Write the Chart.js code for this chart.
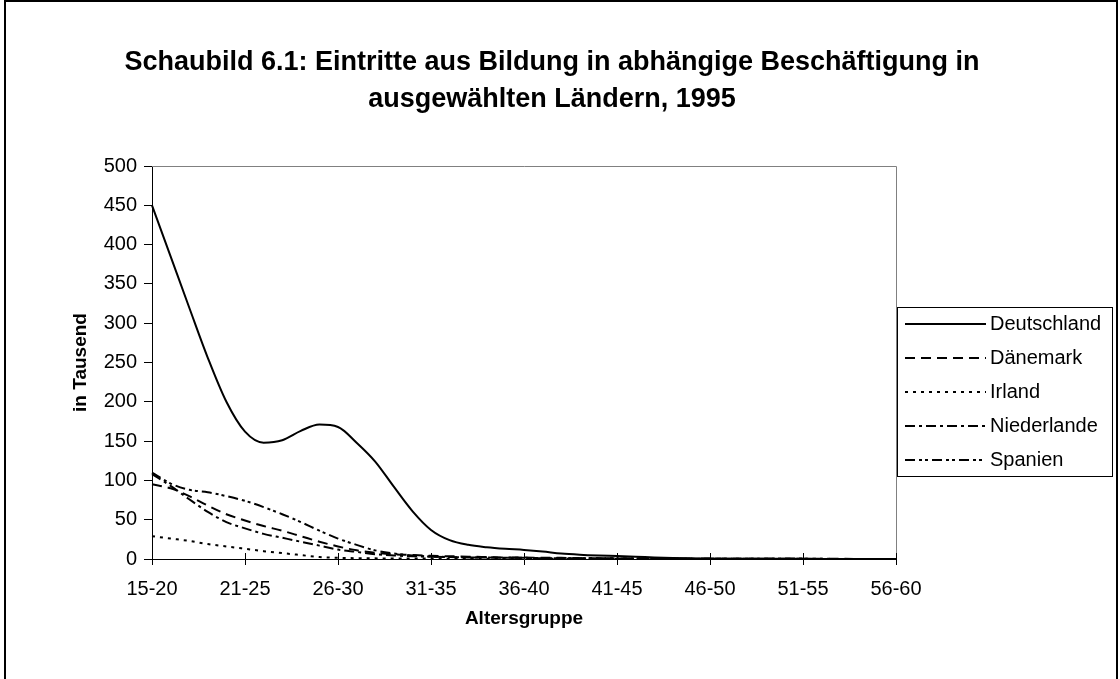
<!DOCTYPE html>
<html>
<head>
<meta charset="utf-8">
<script src="https://cdn.jsdelivr.net/npm/chart.js@4.4.0/dist/chart.umd.min.js"></script>
<style>
html, body { margin: 0; padding: 0; background: #fff; }
#wrap { width: 1120px; height: 679px; }
</style>
</head>
<body>
<div id="wrap"><canvas id="myChart" width="1120" height="679"></canvas></div>
<script>
// the data

const ages = ['15','16','17','18','19','20','21','22','23','24','25','26','27','28','29','30',
    '31','32','33','34','35','36','37','38','39','40','41','42','43','44','45','46','47','48',
    '49','50','51','52','53','54','55']

const tickLabels = ['15-20','21-25','26-30','31-35','36-40','41-45','46-50','51-55','56-60']

const deutschland = [450,385,320,256,200,162,148,151,163,171,168,148,124,92,61,37,24,18,15,13,
    11.5,9.5,7,5.5,4.5,3.8,3,2,1.2,0.8,0.5,0.4,0.3,0.3,0.2,0.2,0.1,0.1,0.1,0.1,0.1]
const daenemark = [95,90,80,68,57,49,42,36,29,22,16,11,8,6,5,4,3.5,3,2.5,2,2,1.5,1.5,1,1,0.8,
    0.6,0.5,0.5,0.4,0.4,0.3,0.3,0.3,0.2,0.2,0.2,0.2,0.1,0.1,0.1]
const irland = [29,26,23,19,16,13,10,7.5,5,2.5,1.5,1,0.8,0.6,0.5,0.5,0.4,0.4,0.3,0.3,0.3,0.3,
    0.2,0.2,0.2,0.2,0.2,0.1,0.1,0.1,0.1,0.1,0.1,0.1,0.1,0.1,0.1,0.1,0.1,0.1,0.1]
const niederlande = [108,93,76,60,47,39,32,27,22,17,12,9,6,4.5,3.5,3,2.5,2,2,1.5,1.5,1,1,1,
    0.8,0.6,0.5,0.5,0.4,0.4,0.3,0.3,0.3,0.2,0.2,0.2,0.2,0.1,0.1,0.1,0.1]
const spanien = [110,96,88,85,80,74,66,57,47,36,26,18,11,7,4.5,3,2.5,2,2,1.5,1.5,1,1,1,0.8,
    0.5,0.5,0.4,0.4,0.3,0.3,0.3,0.2,0.2,0.2,0.2,0.1,0.1,0.1,0.1,0.1]

const titleLines = ['Schaubild 6.1: Eintritte aus Bildung in abhängige Beschäftigung in',
    'ausgewählten Ländern, 1995']

const font = '"Liberation Sans", Arial, sans-serif'

function series(label, data, dash) {
    return {
        label: label,
        data: data,
        borderColor: '#000',
        backgroundColor: '#000',
        borderWidth: 2,
        borderDash: dash,
        pointRadius: 0,
        fill: false,
        cubicInterpolationMode: 'monotone'
    }
}

// title, legend and frames
const extras = {
    id: 'extras',
    afterDraw(chart) {
        const ctx = chart.ctx
        const area = chart.chartArea
        ctx.save()

        // plot area border (top / right)
        ctx.strokeStyle = '#808080'
        ctx.lineWidth = 1
        ctx.beginPath()
        ctx.moveTo(area.left, area.top + 0.5)
        ctx.lineTo(area.right + 0.5, area.top + 0.5)
        ctx.lineTo(area.right + 0.5, area.bottom)
        ctx.stroke()

        // x ticks cross the axis
        const xs = chart.scales.x
        ctx.strokeStyle = '#000'
        ctx.beginPath()
        xs.ticks.forEach((t, i) => {
            const px = Math.round(xs.getPixelForTick(i)) + 0.5
            ctx.moveTo(px, area.bottom - 6)
            ctx.lineTo(px, area.bottom)
        })
        ctx.stroke()

        // outer frame
        ctx.strokeStyle = '#000'
        ctx.lineWidth = 2
        ctx.strokeRect(5, 1, 1112, 700)

        // title
        ctx.fillStyle = '#000'
        ctx.font = 'bold 27px ' + font
        ctx.textAlign = 'center'
        ctx.textBaseline = 'middle'
        ctx.fillText(titleLines[0], 552, 63)
        ctx.fillText(titleLines[1], 552, 100)

        // legend
        const lx = 897, ly = 307, lw = 215, lh = 169
        ctx.lineWidth = 1
        ctx.strokeStyle = '#000'
        ctx.fillStyle = '#fff'
        ctx.fillRect(lx, ly, lw, lh)
        ctx.strokeRect(lx + 0.5, ly + 0.5, lw, lh)
        ctx.font = '20px ' + font
        ctx.textAlign = 'left'
        chart.data.datasets.forEach((ds, i) => {
            const y = 324 + i * 34
            ctx.strokeStyle = '#000'
            ctx.lineWidth = 2
            ctx.setLineDash(ds.borderDash || [])
            ctx.beginPath()
            ctx.moveTo(905, y)
            ctx.lineTo(986, y)
            ctx.stroke()
            ctx.setLineDash([])
            ctx.fillStyle = '#000'
            ctx.fillText(ds.label, 990, y)
        })
        ctx.restore()
    }
}

const ctx = document.querySelector('#myChart').getContext('2d')

let chart = new Chart(ctx, {
    type: 'line',
    data: {
        labels: ages,
        datasets: [
            series('Deutschland', deutschland, []),
            series('Dänemark', daenemark, [10, 6]),
            series('Irland', irland, [3, 5]),
            series('Niederlande', niederlande, [10, 4, 3, 4]),
            series('Spanien', spanien, [10, 4, 3, 3, 3, 4])
        ]
    },
    options: {
        responsive: false,
        animation: false,
        layout: { padding: { top: 166, right: 224, bottom: 0, left: 0 } },
        plugins: {
            legend: { display: false },
            tooltip: { enabled: false }
        },
        scales: {
            x: {
                offset: false,
                afterFit: scale => { scale.height = 120 },
                grid: { drawOnChartArea: false, drawTicks: true, tickLength: 6, color: '#000' },
                border: { display: true, color: '#000', width: 1 },
                ticks: {
                    autoSkip: false,
                    maxRotation: 0,
                    padding: 12,
                    color: '#000',
                    font: { family: font, size: 20 },
                    callback: (val, index) => index % 5 === 0 ? tickLabels[index / 5] : null
                },
                title: {
                    display: true,
                    text: 'Altersgruppe',
                    color: '#000',
                    font: { family: font, size: 19, weight: 'bold' },
                    padding: { top: 0, bottom: 49 }
                }
            },
            y: {
                min: 0,
                max: 500,
                afterFit: scale => { scale.width = 152 },
                grid: { drawOnChartArea: false, drawTicks: true, tickLength: 8, color: '#000' },
                border: { display: true, color: '#000', width: 1 },
                ticks: {
                    stepSize: 50,
                    padding: 7,
                    color: '#000',
                    font: { family: font, size: 20 }
                },
                title: {
                    display: true,
                    text: 'in Tausend',
                    color: '#000',
                    font: { family: font, size: 19, weight: 'bold' },
                    padding: { top: 69, bottom: 0 }
                }
            }
        }
    },
    plugins: [extras]
})
</script>
</body>
</html>
